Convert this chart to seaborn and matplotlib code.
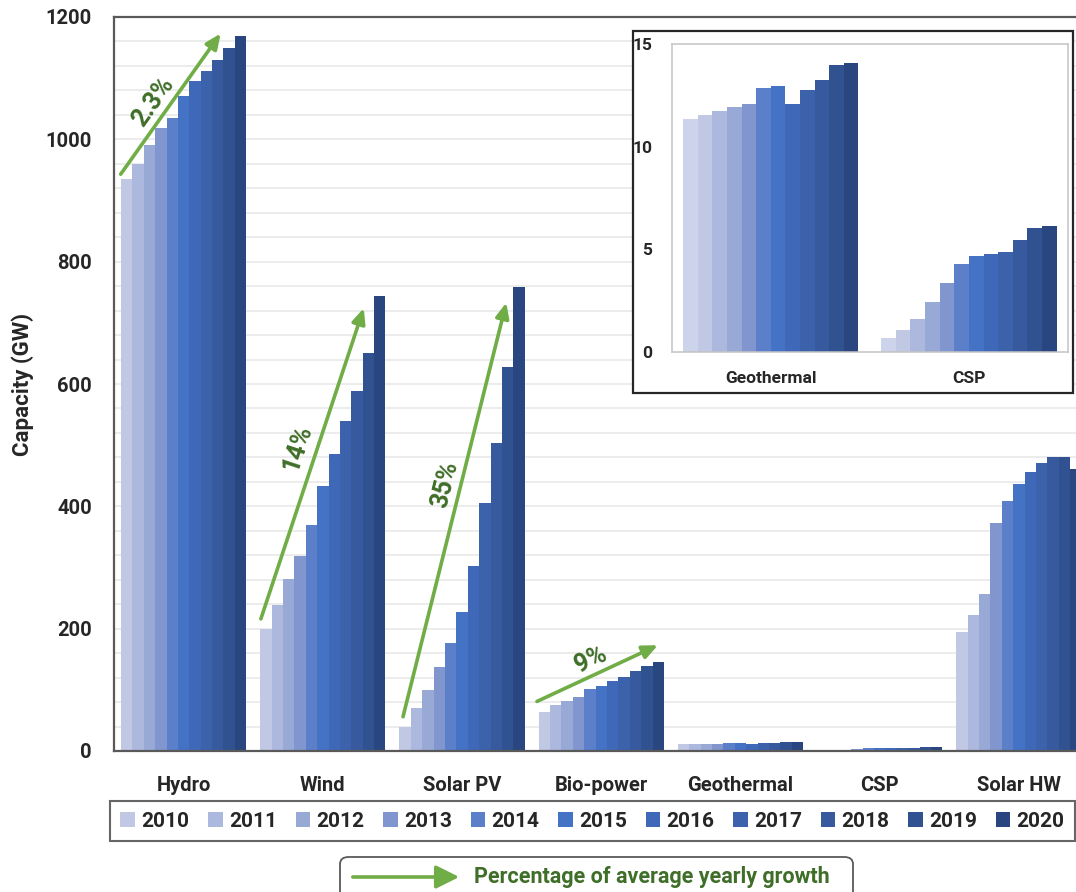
import numpy as np
import pandas as pd

import matplotlib.pyplot as plt
import matplotlib.patches as mpatches
import seaborn as sns

DPI = 100
FONT = 'Roboto'
FONTSIZE = 14.5
GREEN = '#70ad47'
DARK_GREEN = '#3f6e28'
SPINE = '#595959'

techs = ['Hydro', 'Wind', 'Solar PV', 'Bio-power', 'Geothermal', 'CSP', 'Solar HW']
years = [str(y) for y in range(2010, 2021)]
inset_years = [str(y) for y in range(2009, 2021)]

hydro = [935, 959, 990, 1018, 1035, 1071, 1095, 1111, 1130, 1150, 1169]
wind = [199, 238, 282, 319, 370, 433, 486, 539, 589, 651, 744]
solar_pv = [40, 71, 100, 137, 177, 227, 302, 405, 504, 627, 759]
bio_power = [63, 76, 82, 89, 102, 106, 115, 121, 130, 139, 146]
solar_hw = [194, 223, 256, 372, 409, 436, 456, 471, 480, 480, 461]
# inset series start one year earlier (2009)
geothermal = [11.35, 11.56, 11.76, 11.95, 12.07, 12.88, 12.98, 12.07, 12.76, 13.25, 13.97, 14.07]
csp = [0.65, 1.06, 1.58, 2.44, 3.37, 4.26, 4.65, 4.75, 4.86, 5.46, 6.05, 6.15]

year_colors = ['#c0c8e4', '#adb8de', '#98a9d6', '#8196ce', '#5c7fca', '#4472c4',
               '#3f69b8', '#3b62ab', '#375a9f', '#315290', '#2a4680']
inset_colors = ['#cdd3ea'] + year_colors

# growth annotations: label, category, arrow start, arrow end, text position, angle
# (x offsets are relative to the category centre)
growth = [
    ('2.3%', 'Hydro', (-0.452, 943), (0.266, 1173), (-0.22, 1061), 54.6),
    ('14%', 'Wind', (-0.445, 216), (0.294, 724), (-0.18, 496), 71.7),
    ('35%', 'Solar PV', (-0.424, 56), (0.318, 733), (-0.119, 436), 76.0),
    ('9%', 'Bio-power', (-0.462, 81), (0.407, 173), (-0.071, 150), 25.0),
]

sns.set_style('white')
plt.rcParams['font.family'] = [FONT, 'DejaVu Sans']
plt.rcParams['font.weight'] = 'bold'

main_values = {
    'Hydro': hydro, 'Wind': wind, 'Solar PV': solar_pv, 'Bio-power': bio_power,
    'Geothermal': geothermal[1:], 'CSP': csp[1:], 'Solar HW': solar_hw,
}
df = pd.DataFrame([(t, y, v) for t in techs for y, v in zip(years, main_values[t])],
                  columns=['TECH', 'YEAR', 'GW'])
df_inset = pd.DataFrame(
    [(t, y, v) for t, vals in (('Geothermal', geothermal), ('CSP', csp))
     for y, v in zip(inset_years, vals)],
    columns=['TECH', 'YEAR', 'GW'])

W, H = 1076, 892
f = plt.figure(figsize=(W / DPI, H / DPI), dpi=DPI)
ax = f.add_axes([114 / W, 1 - 751 / H, 1 - 114 / W, (751 - 17) / H])

sns.barplot(data=df, x='TECH', y='GW', hue='YEAR', hue_order=years, order=techs,
            palette=year_colors, width=0.9, saturation=1, linewidth=0,
            edgecolor='none', legend=False, ax=ax)

ax.set_xlim(-0.5, 6.41)
ax.set_ylim(0, 1200)
ax.set_yticks(np.arange(0, 1201, 200))
ax.set_yticks(np.arange(0, 1201, 40), minor=True)
ax.grid(which='both', axis='y', color='#ebebeb', linewidth=1.3)
ax.set_axisbelow(True)
ax.tick_params(which='both', length=0)
ax.tick_params(axis='y', pad=16, labelsize=FONTSIZE)
ax.tick_params(axis='x', pad=18, labelsize=FONTSIZE)
for lab in ax.get_xticklabels() + ax.get_yticklabels():
    lab.set_fontweight('bold')
ax.set_xlabel('')
ax.set_ylabel('')
for side in ['left', 'bottom', 'top']:
    ax.spines[side].set_color(SPINE)
    ax.spines[side].set_linewidth(1.6)
ax.spines['right'].set_visible(False)

f.text(23 / W, 1 - 384 / H, 'Capacity (GW)', rotation=90, ha='center', va='center',
       fontsize=16, fontweight='bold')

for label, tech, start, end, tpos, angle in growth:
    c = techs.index(tech)
    ax.annotate('', xy=(c + end[0], end[1]), xytext=(c + start[0], start[1]),
                arrowprops=dict(arrowstyle='-|>,head_length=0.9,head_width=0.4',
                                color=GREEN, lw=2.6, shrinkA=0, shrinkB=0))
    ax.text(c + tpos[0], tpos[1], label, rotation=angle, rotation_mode='anchor',
            ha='center', va='center', color=DARK_GREEN, fontsize=18, fontweight='bold')

# inset frame and axes
frame = mpatches.Rectangle((633 / W, 1 - 393 / H), 440 / W, 362 / H, transform=f.transFigure,
                           facecolor='white', edgecolor='#262626', linewidth=1.6, zorder=1)
f.patches.append(frame)
axi = f.add_axes([671.7 / W, 1 - 351.7 / H, (1068 - 671.7) / W, (351.7 - 44.3) / H])
axi.set_zorder(2)
sns.barplot(data=df_inset, x='TECH', y='GW', hue='YEAR', hue_order=inset_years,
            order=['Geothermal', 'CSP'], palette=inset_colors, width=0.885, saturation=1,
            linewidth=0, edgecolor='none', legend=False, ax=axi)
axi.set_xlim(-0.5, 1.5)
axi.set_ylim(0, 15)
axi.set_yticks([0, 5, 10, 15])
axi.tick_params(length=0)
axi.tick_params(axis='y', pad=14, labelsize=12.5)
axi.tick_params(axis='x', pad=14, labelsize=12.5)
for lab in axi.get_xticklabels() + axi.get_yticklabels():
    lab.set_fontweight('bold')
axi.set_xlabel('')
axi.set_ylabel('')
for side in axi.spines.values():
    side.set_color('#c4c4c4')
    side.set_linewidth(1.1)

# year legend
handles = [mpatches.Patch(facecolor=c, edgecolor='none') for c in year_colors]
leg = f.legend(handles, years, ncol=11, loc='lower left',
               bbox_to_anchor=(110 / W, 1 - 841 / H, (1075 - 110) / W, 43 / H),
               mode='expand', borderaxespad=0, borderpad=0.5, frameon=True, fancybox=False,
               handlelength=0.7, handleheight=0.7, handletextpad=0.3,
               prop={'family': FONT, 'weight': 'bold', 'size': 15})
leg.get_frame().set_edgecolor('#404040')
leg.get_frame().set_linewidth(1.5)

# growth legend box
box = mpatches.FancyBboxPatch((340 / W, 1 - 900 / H), 513 / W, 43 / H,
                              boxstyle='round,pad=0,rounding_size=0.008',
                              transform=f.transFigure, facecolor='white',
                              edgecolor=SPINE, linewidth=1.3, zorder=1)
f.patches.append(box)
arrow = mpatches.FancyArrowPatch((350 / W, 1 - 877 / H), (462 / W, 1 - 877 / H),
                                 transform=f.transFigure,
                                 arrowstyle='-|>,head_length=0.7,head_width=0.35',
                                 color=GREEN, lw=2.6, mutation_scale=20, zorder=3)
f.patches.append(arrow)
f.text(474 / W, 1 - 877 / H, 'Percentage of average yearly growth', ha='left', va='center',
       color=DARK_GREEN, fontsize=15.5, fontweight='bold')

f.savefig('out.png', dpi=DPI)
